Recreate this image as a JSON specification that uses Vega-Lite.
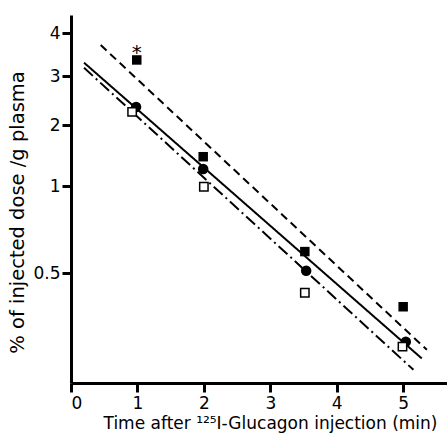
{
  "$schema": "https://vega.github.io/schema/vega-lite/v6.json",
  "width": 376,
  "height": 368,
  "autosize": {"type": "none"},
  "padding": {"left": 71, "top": 15, "right": 0, "bottom": 58},
  "background": "white",
  "config": {
    "view": {"stroke": null},
    "font": "DejaVu Sans",
    "axis": {
      "grid": false,
      "domainColor": "black",
      "domainWidth": 3,
      "tickColor": "black",
      "tickWidth": 3,
      "tickSize": 9,
      "labelColor": "black",
      "labelFont": "DejaVu Sans",
      "labelFontSize": 17,
      "titleFont": "DejaVu Sans",
      "titleFontSize": 17,
      "titleFontWeight": "normal",
      "titleColor": "black"
    }
  },
  "datasets": {
    "points": [
      {"time": 0.99, "pct": 3.34, "group": "filled square"},
      {"time": 1.99, "pct": 1.395, "group": "filled square"},
      {"time": 3.52, "pct": 0.593, "group": "filled square"},
      {"time": 5.0, "pct": 0.382, "group": "filled square"},
      {"time": 0.98, "pct": 2.32, "group": "filled circle"},
      {"time": 1.99, "pct": 1.213, "group": "filled circle"},
      {"time": 3.54, "pct": 0.509, "group": "filled circle"},
      {"time": 5.04, "pct": 0.289, "group": "filled circle"},
      {"time": 0.92, "pct": 2.23, "group": "open square"},
      {"time": 2.0, "pct": 0.994, "group": "open square"},
      {"time": 3.52, "pct": 0.427, "group": "open square"},
      {"time": 4.99, "pct": 0.278, "group": "open square"}
    ],
    "lines": [
      {"time": 0.447, "pct": 3.69, "fit": "dashed"},
      {"time": 5.357, "pct": 0.271, "fit": "dashed"},
      {"time": 0.196, "pct": 3.28, "fit": "solid"},
      {"time": 5.28, "pct": 0.253, "fit": "solid"},
      {"time": 0.196, "pct": 3.17, "fit": "dashdot"},
      {"time": 5.155, "pct": 0.231, "fit": "dashdot"}
    ],
    "marks": [
      {"time": 0.99, "pct": 3.34, "label": "*"}
    ]
  },
  "encoding": {
    "x": {
      "field": "time",
      "type": "quantitative",
      "scale": {"domain": [0, 5.66], "nice": false, "zero": false},
      "axis": {
        "values": [0, 1, 2, 3, 4, 5],
        "format": "d",
        "labelPadding": 3,
        "title": "Time after ¹²⁵I-Glucagon injection (min)",
        "titleX": 199,
        "titleY": 40,
        "titleAlign": "center",
        "titleBaseline": "middle"
      }
    },
    "y": {
      "field": "pct",
      "type": "quantitative",
      "scale": {
        "type": "log",
        "domain": [0.208, 0.5, 1, 2, 3, 4, 4.51],
        "range": [368, 258, 171, 110, 61, 18, 0],
        "nice": false,
        "zero": false
      },
      "axis": {
        "values": [0.5, 1, 2, 3, 4],
        "format": "~g",
        "labelPadding": 2,
        "title": "% of injected dose /g plasma",
        "titleFontSize": 19.5,
        "titleAngle": -90,
        "titleX": -54,
        "titleY": 197,
        "titleAlign": "center",
        "titleBaseline": "middle"
      }
    }
  },
  "layer": [
    {
      "data": {"name": "lines"},
      "mark": {"type": "line", "color": "black", "strokeWidth": 2},
      "encoding": {
        "detail": {"field": "fit"},
        "strokeDash": {
          "field": "fit",
          "type": "nominal",
          "scale": {"domain": ["dashed", "solid", "dashdot"], "range": [[8, 5], [1, 0], [12, 4, 2, 4]]},
          "legend": null
        }
      }
    },
    {
      "data": {"name": "points"},
      "transform": [{"filter": "datum.group == 'filled square'"}],
      "mark": {"type": "square", "filled": true, "color": "black", "size": 90, "opacity": 1}
    },
    {
      "data": {"name": "points"},
      "transform": [{"filter": "datum.group == 'filled circle'"}],
      "mark": {"type": "circle", "color": "black", "size": 110, "opacity": 1}
    },
    {
      "data": {"name": "points"},
      "transform": [{"filter": "datum.group == 'open square'"}],
      "mark": {"type": "square", "filled": false, "fill": "white", "fillOpacity": 1, "stroke": "black", "strokeWidth": 1.5, "size": 70, "opacity": 1}
    },
    {
      "data": {"name": "marks"},
      "mark": {"type": "text", "fontSize": 20, "dy": -7, "baseline": "middle", "color": "black"},
      "encoding": {"text": {"field": "label"}}
    }
  ]
}
